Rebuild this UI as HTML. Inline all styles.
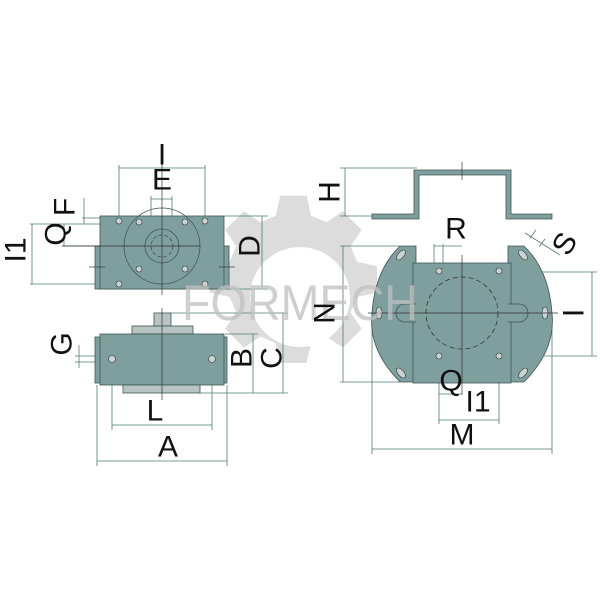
<!DOCTYPE html>
<html><head><meta charset="utf-8"><style>
html,body{margin:0;padding:0;background:#fff}
svg{display:block}
text{font-family:"Liberation Sans",sans-serif;fill:#111}
</style></head><body>
<svg width="600" height="600" viewBox="0 0 600 600" xmlns="http://www.w3.org/2000/svg">
<g fill="#dcdcdc">
<path d="M300,205 l12,0 l4,18 l14,6 l15,-10 l17,17 l-10,15 l6,14 l18,4 l0,24 l-18,4 l-6,14 l10,15 l-17,17 l-15,-10 l-14,6 l-4,18 l-24,0 l-4,-18 l-14,-6 l-15,10 l-17,-17 l10,-15 l-6,-14 l-18,-4 l0,-24 l18,-4 l6,-14 l-10,-15 l17,-17 l15,10 l14,-6 l4,-18 z" transform="translate(300,297) scale(1.1) translate(-306,-297)"/>
</g>
<circle cx="300" cy="297" r="50" fill="#fff"/>

<g stroke="#4d7d74" stroke-width="0.8" fill="none">
<line x1="119" y1="168" x2="205" y2="168"/><line x1="119" y1="165" x2="119" y2="221"/><line x1="205" y1="165" x2="205" y2="221"/>
<line x1="151" y1="199" x2="172" y2="199"/><line x1="151" y1="196" x2="151" y2="240"/><line x1="172" y1="196" x2="172" y2="240"/>
<line x1="224" y1="216" x2="268" y2="216"/><line x1="229" y1="289" x2="268" y2="289"/><line x1="262" y1="216" x2="262" y2="289"/>
<line x1="30" y1="224" x2="110" y2="224"/><line x1="30" y1="284" x2="110" y2="284"/><line x1="32" y1="224" x2="32" y2="284"/>
<line x1="62" y1="246" x2="100" y2="246"/><line x1="64" y1="224" x2="64" y2="246"/>
<line x1="82" y1="218" x2="110" y2="218"/><line x1="84" y1="198" x2="84" y2="224"/>
<line x1="75" y1="356" x2="105" y2="356"/><line x1="75" y1="362" x2="105" y2="362"/><line x1="79" y1="345" x2="79" y2="368"/>
<line x1="112" y1="362" x2="112" y2="430"/><line x1="212" y1="362" x2="212" y2="430"/><line x1="112" y1="425" x2="212" y2="425"/>
<line x1="97" y1="385" x2="97" y2="466"/><line x1="227" y1="385" x2="227" y2="466"/><line x1="97" y1="461" x2="227" y2="461"/>
<line x1="225" y1="334" x2="258" y2="334"/><line x1="200" y1="393" x2="288" y2="393"/><line x1="253" y1="334" x2="253" y2="393"/>
<line x1="171" y1="313" x2="288" y2="313"/><line x1="283" y1="313" x2="283" y2="393"/>
<line x1="340" y1="168" x2="417" y2="168"/><line x1="340" y1="216" x2="372" y2="216"/><line x1="345" y1="168" x2="345" y2="216"/>
<line x1="340" y1="246" x2="400" y2="246"/><line x1="340" y1="382" x2="400" y2="382"/><line x1="343" y1="246" x2="343" y2="382"/>
<line x1="499" y1="272" x2="597" y2="272"/><line x1="499" y1="356" x2="597" y2="356"/><line x1="592" y1="272" x2="592" y2="356"/>
<line x1="372" y1="313" x2="372" y2="454"/><line x1="552" y1="313" x2="552" y2="454"/><line x1="372" y1="449" x2="552" y2="449"/>
<line x1="439" y1="356" x2="439" y2="424"/><line x1="499" y1="356" x2="499" y2="424"/><line x1="439" y1="420" x2="499" y2="420"/>
<line x1="439" y1="394" x2="462" y2="394"/>
<line x1="434" y1="244" x2="434" y2="271"/><line x1="443" y1="244" x2="443" y2="271"/><line x1="434" y1="246" x2="462" y2="246"/>
<line x1="525" y1="233" x2="560" y2="255"/><line x1="530" y1="238" x2="536" y2="230"/><line x1="539" y1="247" x2="545" y2="239"/>
</g>

<g stroke="#3c5553" stroke-width="0.8" fill="#7f9f9e">
<rect x="95" y="246" width="134" height="43"/>
<rect x="100" y="216" width="124" height="73"/>
<circle cx="162" cy="246" r="38" fill="none"/>
<circle cx="162" cy="246" r="17" fill="none"/>
<circle cx="162" cy="246" r="11" fill="none" stroke-dasharray="4 2"/>
</g>
<g stroke="#333" stroke-width="0.6" fill="#c8d4d2">
<circle cx="119" cy="221" r="3"/><circle cx="205" cy="221" r="3"/><circle cx="139" cy="222" r="3"/><circle cx="185" cy="222" r="3"/>
<circle cx="139" cy="269" r="3"/><circle cx="185" cy="269" r="3"/><circle cx="119" cy="284" r="3"/><circle cx="205" cy="284" r="3"/>
</g>
<g stroke="#333" stroke-width="0.7">
<line x1="162" y1="145" x2="162" y2="295"/><line x1="62" y1="246" x2="200" y2="246"/>
<line x1="89" y1="267" x2="105" y2="267"/><line x1="219" y1="267" x2="235" y2="267"/>
</g>

<g stroke="#3c5553" stroke-width="0.8">
<rect x="154" y="313" width="17" height="13" fill="#b7c4c3"/>
<rect x="132" y="326" width="61" height="8" fill="#b7c4c3"/>
<rect x="95" y="337" width="132" height="46" fill="#7f9f9e"/>
<rect x="100" y="334" width="124" height="51" fill="#7f9f9e"/>
<rect x="123" y="385" width="77" height="8" fill="#b7c4c3"/>
</g>
<g stroke="#333" stroke-width="0.6" fill="#c8d4d2"><circle cx="112" cy="359" r="3.5"/><circle cx="212" cy="359" r="3.5"/></g>
<line x1="162" y1="308" x2="162" y2="400" stroke="#333" stroke-width="0.7"/>

<path d="M372,214 L414,214 L414,170 L511,170 L511,214 L552,214 L552,219 L506,219 L506,175 L419,175 L419,219 L372,219 Z" fill="#7f9f9e" stroke="#3c5553" stroke-width="0.8"/>
<line x1="462" y1="162" x2="462" y2="180" stroke="#333" stroke-width="0.7"/>

<g stroke="#3c5553" stroke-width="0.8" fill="#7f9f9e">
<path d="M400,246 L416,246 L416,382 L400,382 Q368,350 372,313 Q375,270 400,246 Z"/>
<path d="M524,246 L508,246 L508,382 L524,382 Q556,350 552,313 Q549,270 524,246 Z"/>
<rect x="413" y="263" width="98" height="120"/>
<circle cx="462" cy="313" r="36" fill="none" stroke="#333" stroke-dasharray="5 3"/>
<path d="M416,304 L405,304 A9,9 0 0 0 405,322 L416,322" fill="#7f9f9e"/>
<path d="M508,304 L519,304 A9,9 0 0 1 519,322 L508,322" fill="#7f9f9e"/>
</g>
<g stroke="#333" stroke-width="0.6" fill="#c8d4d2">
<circle cx="439" cy="271" r="3"/><circle cx="499" cy="271" r="3"/><circle cx="439" cy="356" r="3"/><circle cx="499" cy="356" r="3"/>
<ellipse cx="401" cy="255" rx="3" ry="6" transform="rotate(40 401 255)"/><ellipse cx="523" cy="255" rx="3" ry="6" transform="rotate(-40 523 255)"/>
<ellipse cx="401" cy="373" rx="3" ry="6" transform="rotate(-40 401 373)"/><ellipse cx="523" cy="373" rx="3" ry="6" transform="rotate(40 523 373)"/>
<ellipse cx="379" cy="313" rx="3" ry="6"/><ellipse cx="545" cy="313" rx="3" ry="6"/>
</g>
<g stroke="#333" stroke-width="0.7"><line x1="462" y1="255" x2="462" y2="395"/><line x1="368" y1="313" x2="558" y2="313"/></g>

<text x="182" y="320" font-size="50" style="fill:#c0c0c0" opacity="0.75" textLength="236" lengthAdjust="spacingAndGlyphs">FORMECH</text>

<g font-size="30" text-anchor="middle" dominant-baseline="central">
<text x="162" y="155">I</text>
<text x="162" y="180">E</text>
<text transform="translate(65,207) rotate(-90)">F</text>
<text transform="translate(56,234) rotate(-90)">Q</text>
<text transform="translate(16,250) rotate(-90)">I1</text>
<text transform="translate(250,246) rotate(-90)">D</text>
<text transform="translate(62,344) rotate(-90)">G</text>
<text transform="translate(242,358) rotate(-90)">B</text>
<text transform="translate(272,358) rotate(-90)">C</text>
<text x="155" y="411">L</text>
<text x="168" y="447">A</text>
<text transform="translate(330,192) rotate(-90)">H</text>
<text transform="translate(325,313) rotate(-90)">N</text>
<text x="456" y="229">R</text>
<text transform="translate(565,244) rotate(-60)">S</text>
<text transform="translate(574,313) rotate(-90)">I</text>
<text x="451" y="381">Q</text>
<text x="478" y="402">I1</text>
<text x="462" y="435">M</text>
</g>
</svg>
</body></html>
